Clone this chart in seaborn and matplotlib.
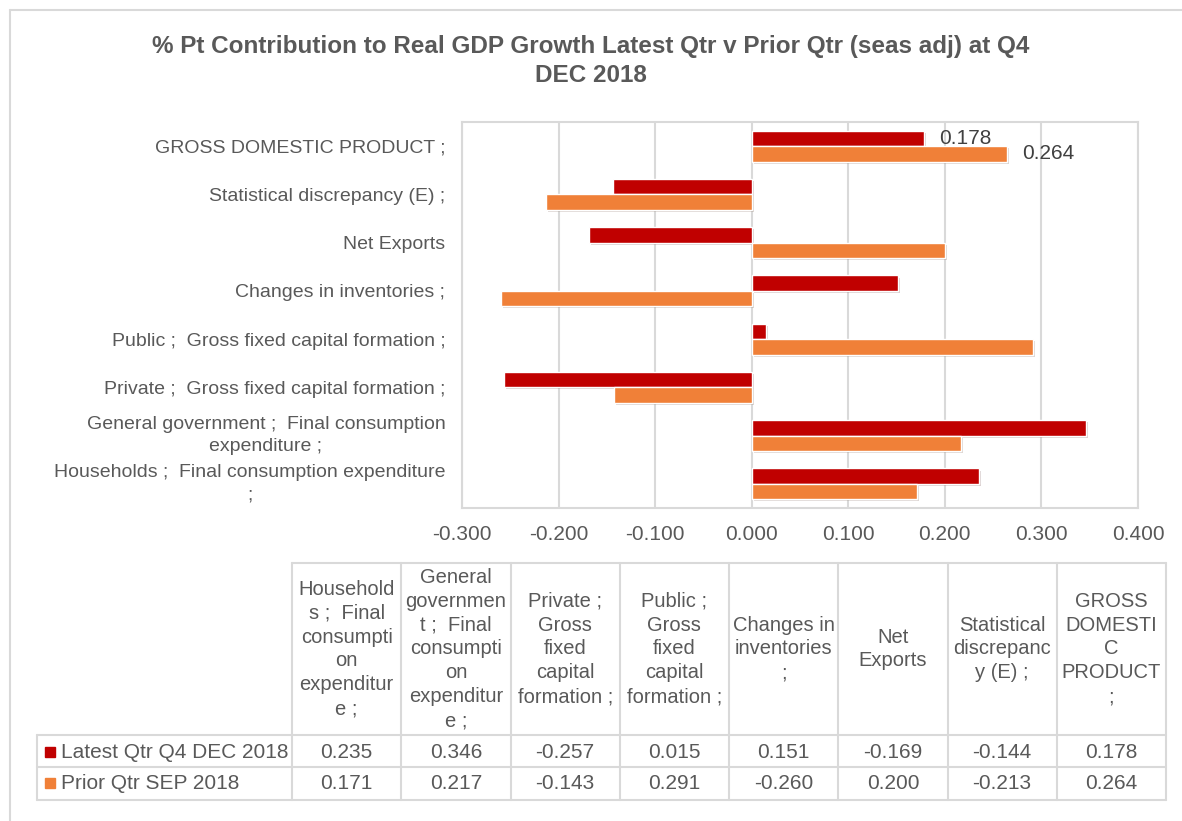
import numpy as np
import pandas as pd
import matplotlib
matplotlib.use("Agg")
import matplotlib.pyplot as plt
import matplotlib.patheffects as pe
from matplotlib.lines import Line2D
from matplotlib.patches import Rectangle
import seaborn as sns

# ---- data -------------------------------------------------------------
categories = [
    "Households ;  Final consumption expenditure ;",
    "General government ;  Final consumption expenditure ;",
    "Private ;  Gross fixed capital formation ;",
    "Public ;  Gross fixed capital formation ;",
    "Changes in inventories ;",
    "Net Exports",
    "Statistical discrepancy (E) ;",
    "GROSS DOMESTIC PRODUCT ;",
]
axis_labels = [
    "Households ;  Final consumption expenditure\n;",
    "General government ;  Final consumption\nexpenditure ;",
    "Private ;  Gross fixed capital formation ;",
    "Public ;  Gross fixed capital formation ;",
    "Changes in inventories ;",
    "Net Exports",
    "Statistical discrepancy (E) ;",
    "GROSS DOMESTIC PRODUCT ;",
]
table_headers = [
    "Household\ns ;  Final\nconsumpti\non\nexpenditur\ne ;",
    "General\ngovernmen\nt ;  Final\nconsumpti\non\nexpenditur\ne ;",
    "Private ;\nGross\nfixed\ncapital\nformation ;",
    "Public ;\nGross\nfixed\ncapital\nformation ;",
    "Changes in\ninventories\n;",
    "Net\nExports",
    "Statistical\ndiscrepanc\ny (E) ;",
    "GROSS\nDOMESTI\nC\nPRODUCT\n;",
]
series_names = ["Latest Qtr Q4 DEC 2018", "Prior Qtr SEP 2018"]
latest_qtr = [0.235, 0.346, -0.257, 0.015, 0.151, -0.169, -0.144, 0.178]
prior_qtr = [0.171, 0.217, -0.143, 0.291, -0.260, 0.200, -0.213, 0.264]
series_colors = ["#C00000", "#F08038"]
x_ticks = [-0.3, -0.2, -0.1, 0.0, 0.1, 0.2, 0.3, 0.4]

TEXT = "#595959"
GRID = "#D9D9D9"

df = pd.DataFrame({
    "category": categories * 2,
    "series": [series_names[0]] * len(categories) + [series_names[1]] * len(categories),
    "value": latest_qtr + prior_qtr,
})

sns.set_theme(style="white")
plt.rcParams["font.family"] = ["Liberation Sans", "DejaVu Sans"]
plt.rcParams["axes.unicode_minus"] = False

W, H = 1182, 821
fig = plt.figure(figsize=(W / 100, H / 100), dpi=100)
fig.patch.set_facecolor("white")

# chart area frame
frame = fig.add_axes([0, 0, 1, 1])
frame.set_xlim(0, W)
frame.set_ylim(H, 0)
frame.axis("off")
frame.add_line(Line2D([10, W], [10, 10], color=GRID, lw=1.5))
frame.add_line(Line2D([10, 10], [10, H], color=GRID, lw=1.5))

# ---- bar chart --------------------------------------------------------
ax = fig.add_axes([462 / W, 1 - 508 / H, (1138 - 462) / W, (508 - 122) / H])
order = categories[::-1]
sns.barplot(data=df, y="category", x="value", hue="series", order=order,
            hue_order=series_names, palette=series_colors, orient="h",
            width=0.64, saturation=1, legend=False, ax=ax, zorder=3)
for bar in ax.patches:
    bar.set_path_effects([pe.SimplePatchShadow(offset=(1.5, -1.5), alpha=0.18), pe.Normal()])

ax.set_xlim(x_ticks[0], x_ticks[-1])
ax.set_xticks(x_ticks)
ax.set_xticklabels([f"{t:.3f}" for t in x_ticks])
ax.set_yticks(range(len(order)))
ax.set_yticklabels([axis_labels[categories.index(c)] for c in order])
for lab in ax.get_yticklabels():
    lab.set_multialignment("center")
    lab.set_linespacing(1.4)
    if "\n" in lab.get_text():
        lab.set_verticalalignment("center")
ax.tick_params(axis="x", colors=TEXT, labelsize=15, length=0, pad=12)
ax.tick_params(axis="y", colors=TEXT, labelsize=14, length=0, pad=12)
ax.set_xlabel("")
ax.set_ylabel("")
ax.grid(axis="x", color=GRID, lw=1.5, zorder=0)
ax.grid(axis="y", visible=False)
ax.set_axisbelow(True)
for sp in ax.spines.values():
    sp.set_color(GRID)
    sp.set_linewidth(1.5)

# value labels on the GDP bars
gdp = categories.index("GROSS DOMESTIC PRODUCT ;")
n = len(order)
gdp_pos = order.index(categories[gdp])
for k, vals in enumerate([latest_qtr, prior_qtr]):
    bar = ax.patches[k * n + gdp_pos]
    yc = bar.get_y() + bar.get_height() / 2
    ax.annotate(f"{vals[gdp]:.3f}", xy=(vals[gdp], yc), xytext=(11, 0),
                textcoords="offset points", ha="left", va="center",
                fontsize=15, color="#404040", zorder=5)

# ---- title ------------------------------------------------------------
fig.text(591 / W, 1 - 46 / H,
         "% Pt Contribution to Real GDP Growth Latest Qtr v Prior Qtr (seas adj) at Q4",
         ha="center", va="center", fontsize=17.5, fontweight="bold", color=TEXT)
fig.text(591 / W, 1 - 76 / H, "DEC 2018",
         ha="center", va="center", fontsize=17.5, fontweight="bold", color=TEXT)

# ---- data table -------------------------------------------------------
col_x = np.linspace(292, 1166, len(categories) + 1)
top, hdr_bot, r1_bot, r2_bot = 563, 735, 767, 800
left = 37
frame.add_line(Line2D([col_x[0], col_x[-1]], [top, top], color=GRID, lw=1.5))
for yy in (hdr_bot, r1_bot, r2_bot):
    frame.add_line(Line2D([left, col_x[-1]], [yy, yy], color=GRID, lw=1.5))
for xx in col_x:
    frame.add_line(Line2D([xx, xx], [top, r2_bot], color=GRID, lw=1.5))
frame.add_line(Line2D([left, left], [hdr_bot, r2_bot], color=GRID, lw=1.5))

for i, h in enumerate(table_headers):
    cx = (col_x[i] + col_x[i + 1]) / 2
    frame.text(cx, (top + hdr_bot) / 2, h, ha="center", va="center",
               fontsize=14.5, color=TEXT, linespacing=1.33)

rows_y = [(hdr_bot + r1_bot) / 2 + 1, (r1_bot + r2_bot) / 2]
for r, (name, vals, col) in enumerate(zip(series_names, [latest_qtr, prior_qtr], series_colors)):
    y = rows_y[r]
    frame.add_patch(Rectangle((45, y - 5), 10, 10, color=col))
    frame.text(61, y, name, ha="left", va="center", fontsize=15, color=TEXT)
    for i, v in enumerate(vals):
        cx = (col_x[i] + col_x[i + 1]) / 2
        frame.text(cx, y, f"{v:.3f}", ha="center", va="center", fontsize=15, color=TEXT)

fig.savefig("out.png", dpi=100, facecolor="white")
